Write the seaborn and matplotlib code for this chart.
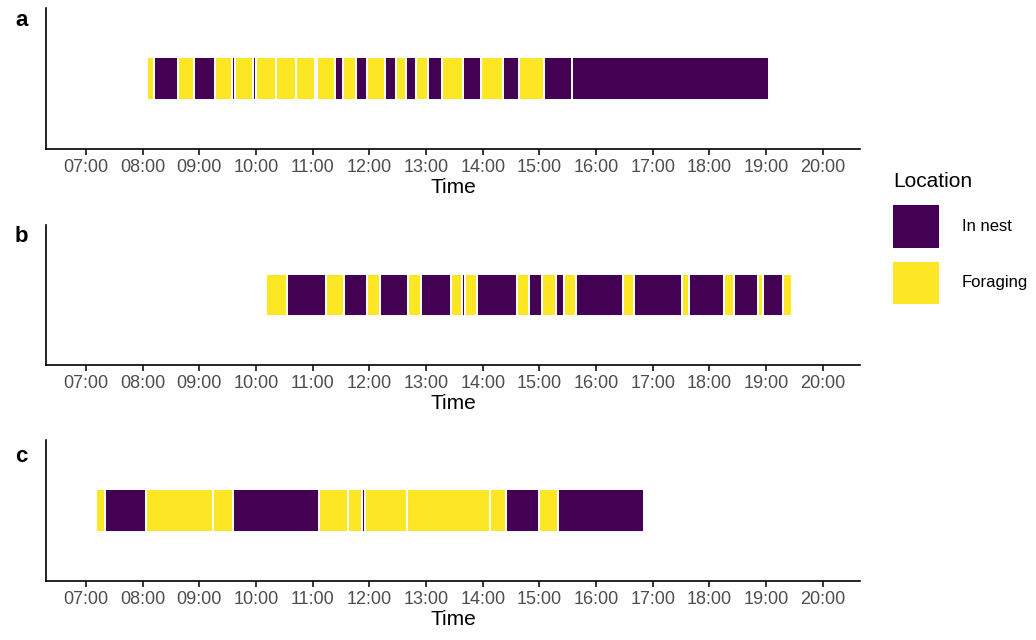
import numpy as np
import pandas as pd
import matplotlib
matplotlib.use("Agg")
import matplotlib.pyplot as plt
from matplotlib.patches import Patch
import seaborn as sns

# ---- data: segment boundaries (HH:MM) and the location in each segment ----
a_times = ["08:05", "08:12", "08:37", "08:54", "09:17", "09:35", "09:38", "09:57",
           "10:00", "10:21", "10:42", "11:02", "11:05", "11:24", "11:32", "11:46",
           "11:58", "12:17", "12:28", "12:39", "12:49", "13:02", "13:17", "13:39",
           "13:58", "14:22", "14:38", "15:05", "15:35", "19:03"]
a_states = ["F", "N", "F", "N", "F", "N", "F", "N", "F", "F", "F", "N", "F", "N",
            "F", "N", "F", "N", "F", "N", "F", "N", "F", "N", "F", "N", "F", "N", "N"]

b_times = ["10:11", "10:33", "11:14", "11:33", "11:57", "12:11", "12:41", "12:55",
           "13:26", "13:38", "13:41", "13:54", "14:36", "14:49", "15:03", "15:18",
           "15:26", "15:39", "16:29", "16:40", "17:31", "17:38", "18:15", "18:26",
           "18:52", "18:57", "19:18", "19:28"]
b_states = ["F", "N", "F", "N", "F", "N", "F", "N", "F", "N", "F", "N", "F", "N",
            "F", "N", "F", "N", "F", "N", "F", "N", "F", "N", "F", "N", "F"]

c_times = ["07:11", "07:20", "08:04", "09:14", "09:36", "11:07", "11:37", "11:52",
           "11:55", "12:40", "14:08", "14:25", "15:00", "15:20", "16:51"]
c_states = ["F", "N", "F", "F", "N", "F", "F", "N", "F", "F", "F", "N", "F", "N"]

state_names = {"N": "In nest", "F": "Foraging"}
legend_order = ["In nest", "Foraging"]
palette = {"In nest": "#440154", "Foraging": "#FDE725"}
tick_hours = list(range(7, 21))
tick_labels = [f"{h:02d}:00" for h in tick_hours]
panel_letters = ["a", "b", "c"]


def to_min(s):
    h, m = s.split(":")
    return int(h) * 60 + int(m)


sns.set_theme(style="ticks")
plt.rcParams["font.family"] = ["Liberation Sans", "DejaVu Sans"]
plt.rcParams["text.color"] = "black"

fig = plt.figure(figsize=(10.36, 6.4), dpi=100)

W, H = 1036, 640
ax_left, ax_right = 46, 860
panels = [(a_times, a_states, 8, 149),
          (b_times, b_states, 225, 365),
          (c_times, c_states, 440, 581)]
letter_y = [20, 237, 457]

for i, (times, states, top, bottom) in enumerate(panels):
    edges = [float(to_min(t)) for t in times]
    mids = [(edges[k] + edges[k + 1]) / 2 for k in range(len(edges) - 1)]
    df = pd.DataFrame({"mid": mids,
                       "Location": [state_names[s] for s in states],
                       "w": 1.0})
    ax = fig.add_axes([ax_left / W, 1 - bottom / H,
                       (ax_right - ax_left) / W, (bottom - top) / H])
    sns.histplot(data=df, x="mid", weights="w", hue="Location",
                 hue_order=legend_order, palette=palette, bins=edges,
                 multiple="layer", alpha=1, edgecolor="white", linewidth=1.4,
                 legend=False, ax=ax)
    ax.set_xlim(377.6, 1239.5)
    ax.set_ylim(-1.15, 2.15)
    ax.set_yticks([])
    ax.set_ylabel("")
    ax.set_xticks([h * 60 for h in tick_hours])
    ax.set_xticklabels(tick_labels)
    ax.tick_params(axis="x", length=4.5, width=1.1, color="black",
                   labelcolor="#4D4D4D", labelsize=13, pad=3)
    ax.set_xlabel("Time", fontsize=15, color="black", labelpad=1)
    for side in ["top", "right"]:
        ax.spines[side].set_visible(False)
    for side in ["left", "bottom"]:
        ax.spines[side].set_color("black")
        ax.spines[side].set_linewidth(1.2)
    fig.text(15 / W, 1 - letter_y[i] / H, panel_letters[i], fontsize=16,
             fontweight="bold", ha="left", va="center", color="black")

handles = [Patch(facecolor=palette[k], edgecolor="none") for k in legend_order]
fig.legend(handles=handles, labels=legend_order, title="Location",
           loc="upper left", bbox_to_anchor=(893 / W, 1 - 172 / H),
           frameon=False, fontsize=12, title_fontsize=15,
           handlelength=2.76, handleheight=3.55, labelspacing=0.84,
           handletextpad=1.35, borderpad=0, borderaxespad=0,
           alignment="left", labelcolor="black")

fig.savefig("out.png", dpi=100)
